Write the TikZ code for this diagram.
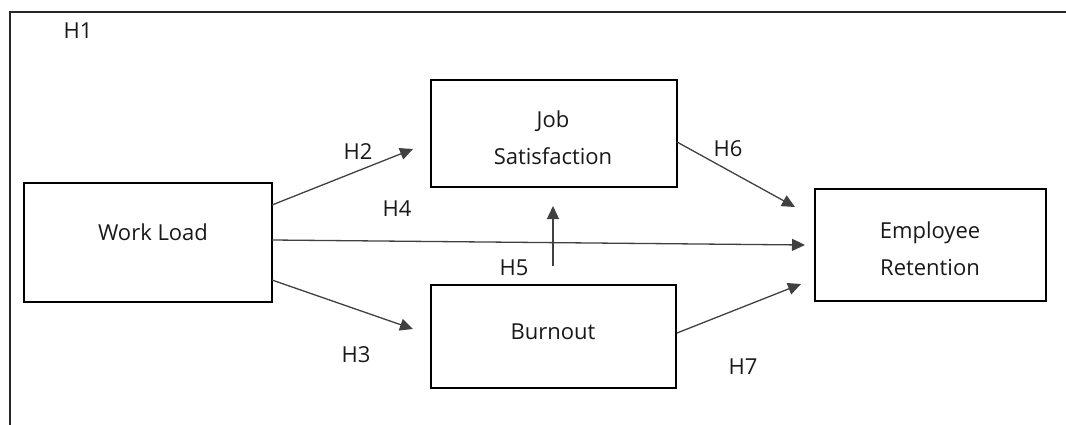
\documentclass[tikz,border=0pt]{standalone}
\usepackage{fontspec}
\setmainfont{Open Sans}
\usetikzlibrary{arrows.meta}
\begin{document}
\begin{tikzpicture}[x=1pt,y=-1pt,
  box/.style={draw=black,line width=1.8pt},
  lbl/.style={font=\fontsize{22}{37}\selectfont,text=black!90,inner sep=0pt},
  conn/.style={draw=black!75,line width=1.3pt,-{Triangle[length=13pt,width=12pt]}}]
\useasboundingbox (0,0) rectangle (1066,425);
\draw[line width=2pt,black!85] (10,425) -- (10,12) -- (1066,12);
\node[lbl] (h1) at (78,31) {H1};
\draw[box] (24,183) rectangle (272,302);
\node[lbl] (wltext) at (153,232) {Work Load};
\draw[box] (431,80) rectangle (677,187);
\node[lbl,align=center] (jstext) at (553,138) {Job\\Satisfaction};
\draw[box] (431,285) rectangle (676,388);
\node[lbl] (butext) at (553,332) {Burnout};
\draw[box] (815,189) rectangle (1046,301);
\node[lbl,align=center] (ertext) at (930,249) {Employee\\Retention};
\coordinate (a2s) at (272,205); \coordinate (a2e) at (413,149);
\coordinate (a4s) at (272,240); \coordinate (a4e) at (805,245);
\coordinate (a3s) at (272,280); \coordinate (a3e) at (413,329);
\coordinate (a5s) at (553,266); \coordinate (a5e) at (553,206);
\coordinate (a6s) at (677,142); \coordinate (a6e) at (795,207);
\coordinate (a7s) at (677,333); \coordinate (a7e) at (801,284);
\draw[conn] (a2s) -- (a2e);
\draw[conn] (a4s) -- (a4e);
\draw[conn] (a3s) -- (a3e);
\draw[conn] (a5s) -- (a5e);
\draw[conn] (a6s) -- (a6e);
\draw[conn] (a7s) -- (a7e);
\node[lbl] (h2) at (358,152) {H2};
\node[lbl] (h4) at (397,209) {H4};
\node[lbl] (h3) at (356,355) {H3};
\node[lbl] (h5) at (514,268) {H5};
\node[lbl] (h6) at (728,149) {H6};
\node[lbl] (h7) at (743,367) {H7};
\end{tikzpicture}
\end{document}
